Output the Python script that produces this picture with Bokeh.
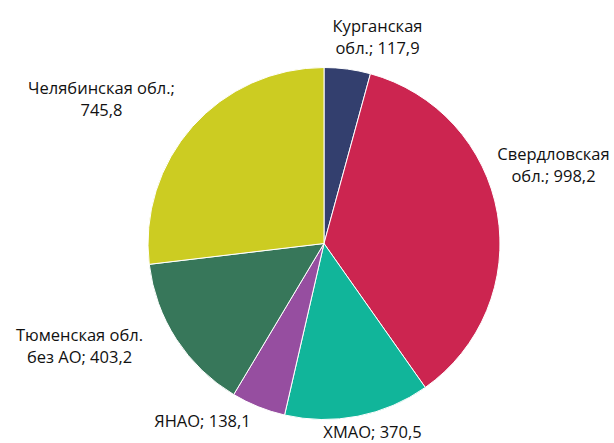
import math
from bokeh.plotting import figure
from bokeh.models import Range1d, ColumnDataSource
from bokeh.core.properties import value
from bokeh.embed import file_html
from bokeh.resources import INLINE

regions = ["Курганская обл.", "Свердловская обл.", "ХМАО", "ЯНАО", "Тюменская обл. без АО", "Челябинская обл."]
values = [117.9, 998.2, 370.5, 138.1, 403.2, 745.8]
label_lines = [
    ["Курганская", "обл.; 117,9"],
    ["Свердловская", "обл.; 998,2"],
    ["ХМАО; 370,5"],
    ["ЯНАО; 138,1"],
    ["Тюменская обл.", "без АО; 403,2"],
    ["Челябинская обл.;", "745,8"],
]
colors = ["#333f6e", "#cc2550", "#11b59a", "#964ea0", "#37775a", "#cccc22"]

W, H = 614, 443
# picture-pixel helpers
def px(x):
    return x
def py(y):
    return H - y

cx, cy, r = px(323.5), py(243), 176
# label anchor positions (picture pixels, centre of first line)
label_pos = [(377, 25), (553, 153), (372, 431), (202, 420), (79, 334), (101, 87)]
line_h = 22

total = sum(values)
starts, ends = [], []
cum = 0.0
for v in values:
    a0 = math.pi / 2 - 2 * math.pi * cum / total
    cum += v
    a1 = math.pi / 2 - 2 * math.pi * cum / total
    starts.append(a1)
    ends.append(a0)

src = ColumnDataSource(dict(start=starts, end=ends, color=colors, name=regions))

p = figure(width=W, height=H, x_range=Range1d(0, W), y_range=Range1d(0, H),
           output_backend="svg", toolbar_location=None, min_border=0)
p.axis.visible = False
p.grid.visible = False
p.outline_line_color = None
p.background_fill_color = "white"

p.wedge(x=cx, y=cy, radius=r, start_angle="start", end_angle="end", direction="anticlock",
        fill_color="color", line_color="white", line_width=1, source=src)

tx, ty, tt = [], [], []
for lines, (lx, ly) in zip(label_lines, label_pos):
    for i, ln in enumerate(lines):
        tx.append(px(lx))
        ty.append(py(ly + i * line_h))
        tt.append(ln)
p.text(x=tx, y=ty, text=tt, text_align="center", text_baseline="middle",
       text_font=value("Open Sans"), text_font_size="16.5px", text_color="#111111")

open("out.html", "w").write(file_html(p, INLINE))
